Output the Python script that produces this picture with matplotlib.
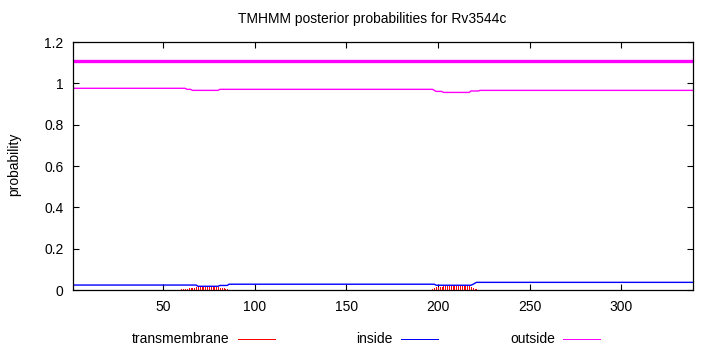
import numpy as np
import matplotlib
matplotlib.use("Agg")
import matplotlib.pyplot as plt
from matplotlib.lines import Line2D

plt.rcParams['font.family'] = ['Liberation Sans', 'DejaVu Sans']

# Sequence length and axis settings
seq_len = 339
yticks = [0, 0.2, 0.4, 0.6, 0.8, 1.0, 1.2]
ytick_labels = ["0", "0.2", "0.4", "0.6", "0.8", "1", "1.2"]
xticks = [50, 100, 150, 200, 250, 300]

# Posterior probability of "outside" (vertices where the value changes)
outside_res = [1, 62, 63, 65, 66, 80, 81, 197, 198, 199, 202, 203, 217, 218, 222, 223, 339]
outside_val = [0.976, 0.976, 0.971, 0.971, 0.966, 0.966, 0.971, 0.971, 0.966,
               0.961, 0.961, 0.956, 0.956, 0.963, 0.963, 0.966, 0.966]

# Posterior probability of "inside"
inside_res = [1, 68, 69, 80, 81, 85, 86, 198, 199, 218, 219, 220, 221, 339]
inside_val = [0.024, 0.024, 0.018, 0.018, 0.022, 0.022, 0.028, 0.028, 0.023,
              0.023, 0.027, 0.032, 0.037, 0.037]

# Posterior probability of "transmembrane" (per residue, where non-zero)
tm_res = [57, 58, 59, 60, 61, 62, 63, 64, 65, 66, 67, 68, 69, 70, 71, 72, 73, 74,
          75, 76, 77, 78, 79, 80, 81, 82, 83, 84, 85, 86, 87, 95, 101, 107,
          196, 197, 198, 199, 200, 201, 202, 203, 204, 205, 206, 207, 208, 209,
          210, 211, 212, 213, 214, 215, 216, 217, 218, 219, 220, 221, 234, 240,
          246, 251]
tm_val = [0.001, 0.002, 0.002, 0.003, 0.004, 0.005, 0.007, 0.009, 0.010, 0.011,
          0.012, 0.013, 0.015, 0.016, 0.016, 0.016, 0.016, 0.016, 0.016, 0.016,
          0.016, 0.015, 0.015, 0.014, 0.010, 0.009, 0.008, 0.006, 0.004, 0.002,
          0.001, 0.002, 0.002, 0.002,
          0.002, 0.004, 0.008, 0.014, 0.015, 0.016, 0.016, 0.020, 0.021, 0.021,
          0.021, 0.021, 0.021, 0.021, 0.021, 0.021, 0.021, 0.021, 0.021, 0.021,
          0.021, 0.020, 0.014, 0.012, 0.006, 0.003, 0.002, 0.002, 0.002, 0.002]

# Predicted topology: whole chain outside
topo_start = [1]
topo_end = [339]
topo_level = 1.11

RED = "#ff0000"
BLUE = "#0000ff"
MAGENTA = "#ff00ff"
PX = 0.72  # one pixel at 100 dpi, in points

fig = plt.figure(figsize=(7.1, 3.5), dpi=100)
ax = fig.add_axes([73.3 / 710, 1 - 290 / 350, (692.7 - 73.3) / 710, (290 - 42) / 350])

ax.vlines(tm_res, 0, tm_val, color=RED, linewidth=PX, antialiased=False)
ax.plot(inside_res, inside_val, color=BLUE, linewidth=1.0)
ax.plot(outside_res, outside_val, color=MAGENTA, linewidth=1.0)
for s, e in zip(topo_start, topo_end):
    ax.plot([s, e], [topo_level, topo_level], color=MAGENTA, linewidth=2.4,
            solid_capstyle="butt")

ax.set_xlim(1, seq_len)
ax.set_ylim(0, 1.2)
ax.set_xticks(xticks)
ax.set_xticklabels([str(t) for t in xticks])
ax.set_yticks(yticks)
ax.set_yticklabels(ytick_labels)
ax.tick_params(direction="in", length=4, width=0.8, top=True, right=True,
               labelsize=10, pad=7, colors="black")
for sp in ax.spines.values():
    sp.set_linewidth(0.9)

fig.text(372 / 710, 1 - 19 / 350, "TMHMM posterior probabilities for Rv3544c",
         ha="center", va="center", fontsize=10)
fig.text(14 / 710, 1 - 164 / 350, "probability", rotation=90,
         ha="center", va="center", fontsize=10)

# Legend row beneath the plot
legend_y = 1 - 339 / 350
entries = [("transmembrane", RED, 229, 238, 275),
           ("inside", BLUE, 392, 401, 438),
           ("outside", MAGENTA, 555, 563, 600)]
for label, col, txt_end, l0, l1 in entries:
    fig.text(txt_end / 710, legend_y, label, ha="right", va="center", fontsize=10)
    fig.add_artist(Line2D([l0 / 710, l1 / 710], [legend_y, legend_y],
                          color=col, linewidth=PX, antialiased=False,
                          transform=fig.transFigure))

fig.savefig("out.png", dpi=100, facecolor="white")
